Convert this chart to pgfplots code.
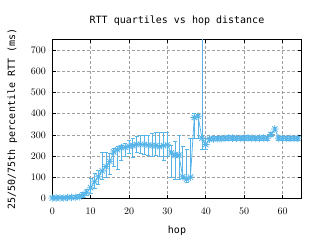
\documentclass[border=0pt]{standalone}
\usepackage{pgfplots}
\pgfplotsset{compat=1.18}
\usepackage{pgfplotstable}
\usepackage{fontspec}
\setmainfont{DejaVu Sans Mono}
\definecolor{gpblue}{HTML}{56B4E9}
\pgfdeclareplotmark{gpstar}{%
  \pgfpathmoveto{\pgfqpoint{-\pgfplotmarksize}{0pt}}\pgfpathlineto{\pgfqpoint{\pgfplotmarksize}{0pt}}%
  \pgfpathmoveto{\pgfqpoint{0pt}{-\pgfplotmarksize}}\pgfpathlineto{\pgfqpoint{0pt}{\pgfplotmarksize}}%
  \pgfpathmoveto{\pgfqpoint{-0.707\pgfplotmarksize}{-0.707\pgfplotmarksize}}\pgfpathlineto{\pgfqpoint{0.707\pgfplotmarksize}{0.707\pgfplotmarksize}}%
  \pgfpathmoveto{\pgfqpoint{-0.707\pgfplotmarksize}{0.707\pgfplotmarksize}}\pgfpathlineto{\pgfqpoint{0.707\pgfplotmarksize}{-0.707\pgfplotmarksize}}%
  \pgfusepathqstroke}
\pgfplotstableread{
hop med lo hi
0 3 0 12
1 4 0 12
2 4 0 12
3 3 0 10
4 5 0 12
5 6 0 14
6 6 1 15
7 9 2 18
8 18 5 30
9 30 15 45
10 52 25 95
11 80 50 118
12 103 68 135
13 131 90 218
14 151 100 218
15 175 112 212
16 220 150 235
17 230 140 245
18 240 182 252
19 242 200 262
20 247 212 272
21 250 195 282
22 255 220 292
23 256 215 296
24 255 210 296
25 252 205 300
26 250 200 306
27 250 205 310
28 245 200 310
29 250 182 310
30 254 200 310
31 215 100 250
32 205 90 270
33 205 90 300
34 103 95 245
35 92 78 232
36 102 98 282
37 382 282 400
38 388 282 398
39 285 230 900
40 255 230 285
41 280 272 290
42 282 272 292
43 282 273 292
44 283 273 293
45 285 275 295
46 286 276 296
47 285 275 295
48 284 274 294
49 284 274 294
50 285 275 295
51 286 276 296
52 285 275 295
53 284 274 294
54 285 275 295
55 286 276 296
56 284 274 294
57 302 292 312
58 328 320 336
59 285 275 295
60 284 274 294
61 283 273 293
62 284 274 294
63 283 273 293
64 284 274 294
}\rtt
\begin{document}
\begin{tikzpicture}
\begin{axis}[
  at={(0,0)}, anchor=south west,
  scale only axis, width=249.4bp, height=159.4bp,
  xmin=0, xmax=65, ymin=0, ymax=750,
  xtick={0,10,...,60}, ytick={0,100,...,700},
  tick align=inside, major tick length=4bp,
  axis line style={black, line width=0.9pt},
  every tick/.style={black, line width=0.6pt},
  grid=major,
  major grid style={gray!75, dash pattern=on 2.5bp off 2.5bp, line width=0.6pt},
  font=\fontsize{10bp}{12bp}\selectfont,
  tick label style={font=\fontsize{10bp}{12bp}\selectfont},
  xticklabel style={anchor=center, yshift=-13bp},
  yticklabel style={anchor=east, xshift=-3bp},
  title={RTT quartiles vs hop distance},
  title style={anchor=center, at={(axis description cs:0.5,1)}, yshift=12.5bp},
  xlabel={hop},
  xlabel style={anchor=center, at={(axis description cs:0.5,0)}, yshift=-32bp},
  ylabel={25/50/75th percentile RTT (ms)},
  ylabel style={anchor=center, at={(axis description cs:0,0.5)}, yshift=40bp},
]
\addplot[gpblue, line width=0.8pt, mark=gpstar, mark size=3.8bp,
  mark options={line width=0.8pt},
  error bars/.cd, y dir=both, y explicit,
  error bar style={gpblue, line width=0.8pt},
  error mark options={gpblue, mark size=2bp, line width=0.8pt, rotate=90}]
  table[x=hop, y=med, y error plus expr=\thisrow{hi}-\thisrow{med}, y error minus expr=\thisrow{med}-\thisrow{lo}] {\rtt};
\end{axis}
\useasboundingbox (-52.3bp,-41.3bp) rectangle (267.7bp,198.7bp);
\end{tikzpicture}
\end{document}
